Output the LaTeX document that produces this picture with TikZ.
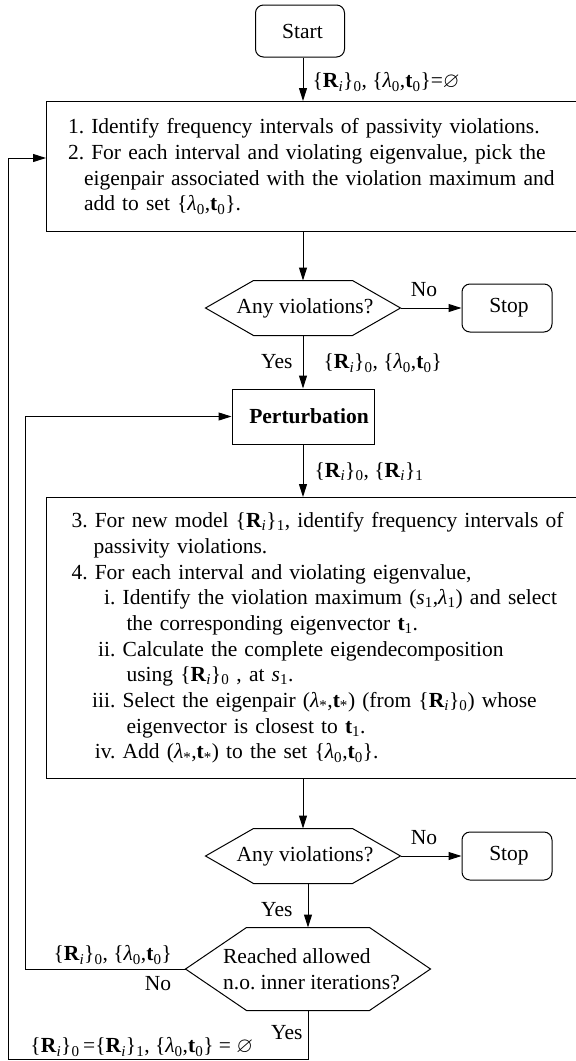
\documentclass[tikz,border=0pt]{standalone}
\usepackage{fontspec}
\setmainfont{Liberation Serif}
\usepackage{amssymb}
\usetikzlibrary{arrows.meta}
\newcommand{\Rs}[1]{\{\textbf{R}\textsubscript{\textit{i}}\}\textsubscript{#1}}
\newcommand{\Lt}[1]{\{\textit{λ}\textsubscript{#1},\textbf{t}\textsubscript{#1}\}}
\newcommand{\Pst}{(\textit{λ}\textsubscript{*},\textbf{t}\textsubscript{*})}
\begin{document}
\frenchspacing
\begin{tikzpicture}[x=1pt,y=-1pt,
  font=\fontsize{21.5pt}{25.7pt}\selectfont\frenchspacing,
  line width=1pt,
  arr/.style={-{Triangle[length=13pt,width=8pt]}},
  termbox/.style={draw,rounded corners=8pt,minimum width=89pt,minimum height=52pt,inner sep=0pt},
  procbox/.style={draw,anchor=north west,minimum width=544pt,align=left,inner ysep=0pt},
  hexnode/.style={inner sep=0pt,align=left},
  lbl/.style={inner sep=0pt}
]
\useasboundingbox (0,0) rectangle (576,1061);
\coordinate (ax) at (303,0);
\coordinate (ix) at (25,0);
\coordinate (ox) at (8,1059);
\coordinate (tl) at (8,158);

% nodes
\node[termbox] (start) at (300,31) {\hspace*{5pt}Start};
\node[procbox,inner xsep=21.5pt,text width=520pt,minimum height=130pt] (box1) at (46,101)
 {1. Identify frequency intervals of passivity violations.\\
  2. For each interval and violating eigenvalue, pick the\\
  \hspace*{16pt}eigenpair associated with the violation maximum and\\
  \hspace*{16pt}add to set \Lt{0}.};
\node[hexnode,minimum width=194pt,minimum height=54pt] (h1) at (303,308) {\hspace*{4pt}Any violations?};
\node[termbox,minimum width=90pt,minimum height=48pt] (stop1) at (507,308) {\hspace*{4pt}Stop};
\node[draw,minimum width=142pt,minimum height=55pt,inner sep=0pt] (pert) at (303,416.5) {\hspace*{12pt}\bfseries Perturbation};
\node[procbox,inner xsep=25pt,text width=520pt,minimum height=281pt] (box2) at (46,497)
 {3. For new model \Rs{1}, identify frequency intervals of\\
  \hspace*{22pt}passivity violations.\\
  4. For each interval and violating eigenvalue,\\
  \hspace*{20pt}\makebox[24pt][r]{i.} Identify the violation maximum (\textit{s}\textsubscript{1},\textit{λ}\textsubscript{1}) and select\\
  \hspace*{55pt}the corresponding eigenvector \textbf{t}\textsubscript{1}.\\
  \hspace*{20pt}\makebox[24pt][r]{ii.} Calculate the complete eigendecomposition\\
  \hspace*{55pt}using \Rs{0} , at \textit{s}\textsubscript{1}.\\
  \hspace*{20pt}\makebox[24pt][r]{iii.} Select the eigenpair \Pst{} (from \Rs{0}) whose\\
  \hspace*{55pt}eigenvector is closest to \textbf{t}\textsubscript{1}.\\
  \hspace*{20pt}\makebox[24pt][r]{iv.} Add \Pst{} to the set \Lt{0}.};
\node[hexnode,minimum width=194pt,minimum height=54pt] (h2) at (303,856) {\hspace*{4pt}Any violations?};
\node[termbox,minimum width=90pt,minimum height=48pt] (stop2) at (507,856) {\hspace*{4pt}Stop};
\node[hexnode,minimum width=244pt,minimum height=82pt] (h3) at (308,969) {\hspace*{7pt}Reached allowed\\\hspace*{7pt}n.o. inner iterations?};

% hexagon outlines
\draw (h1.west) -- ([xshift=48pt]h1.north west) -- ([xshift=-48pt]h1.north east) -- (h1.east)
  -- ([xshift=-48pt]h1.south east) -- ([xshift=48pt]h1.south west) -- cycle;
\draw (h2.west) -- ([xshift=48pt]h2.north west) -- ([xshift=-48pt]h2.north east) -- (h2.east)
  -- ([xshift=-48pt]h2.south east) -- ([xshift=48pt]h2.south west) -- cycle;
\draw (h3.west) -- ([xshift=61pt]h3.north west) -- ([xshift=-61pt]h3.north east) -- (h3.east)
  -- ([xshift=-61pt]h3.south east) -- ([xshift=61pt]h3.south west) -- cycle;

% labels
\node[lbl,anchor=west] (l1) at (312,82) {\Rs{0}, \Lt{0}=$\varnothing$};
\node[lbl] (no1) at (424,290) {No};
\node[lbl,anchor=east] (yes1) at (293,362) {Yes};
\node[lbl,anchor=west] (l2) at (323,363) {\Rs{0}, \Lt{0}};
\node[lbl,anchor=west] (l3) at (314,472) {\Rs{0}, \Rs{1}};
\node[lbl] (no2) at (424,838) {No};
\node[lbl,anchor=east] (yes2) at (293,910) {Yes};
\node[lbl,anchor=west] (l4) at (53,955) {\Rs{0}, \Lt{0}};
\node[lbl] (no3) at (158,984) {No};
\node[lbl,anchor=east] (yes3) at (303,1033) {Yes};
\node[lbl,anchor=west] (l5) at (30,1047) {\Rs{0}\,=\Rs{1}, \Lt{0} = $\varnothing$};

% connectors
\draw[arr] (start.south -| ax) -- (box1.north -| ax);
\draw[arr] (box1.south -| ax) -- (h1.north);
\draw[arr] (h1.east) -- (stop1.west);
\draw[arr] (h1.south) -- (pert.north);
\draw[arr] (pert.south) -- (box2.north -| ax);
\draw[arr] (box2.south -| ax) -- (h2.north);
\draw[arr] (h2.east) -- (stop2.west);
\draw[arr] (h2.south -| h3.north) -- (h3.north);
\draw[arr] (h3.west) -| (ix |- pert.west) -- (pert.west);
\draw[arr] (h3.south) |- (ox) -- (tl) -- (box1.west |- tl);
\end{tikzpicture}
\end{document}
